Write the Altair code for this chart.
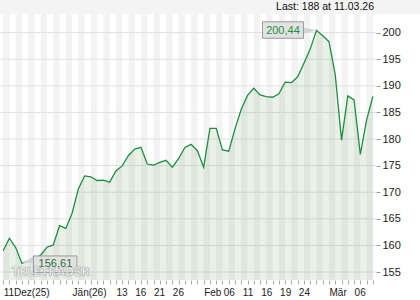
import altair as alt
import pandas as pd

# ---- data ----
values = [159.0, 161.35, 159.6, 156.61, 157.1, 157.4, 158.2, 159.66, 160.1, 163.7,
          163.2, 166.05, 170.6, 173.06, 172.9, 172.2, 172.25, 171.9, 174.0, 174.95,
          176.9, 178.1, 178.45, 175.3, 175.1, 175.6, 176.0, 174.7, 176.3, 178.4,
          179.0, 177.8, 174.7, 182.0, 182.0, 177.95, 177.7, 181.9, 185.6, 188.2,
          189.55, 188.3, 187.97, 187.85, 188.5, 190.7, 190.6, 191.7, 194.25, 196.9,
          200.44, 199.4, 198.3, 192.05, 179.8, 188.1, 187.35, 177.1, 183.6, 188.0]
tick_idx = [0, 11, 18, 21, 24, 27, 32, 36, 39, 42, 45, 48, 52, 56]
tick_text = ["11Dez(25)", "Jän(26)", "13", "16", "21", "26", "Feb", "06", "11",
             "16", "19", "24", "Mär", "06"]
y_ticks = [155, 160, 165, 170, 175, 180, 185, 190, 195, 200]
last_date = "11.03.26"

n = len(values)
df = pd.DataFrame({"idx": list(range(n)), "value": values})
stripes = pd.DataFrame({"idx": list(range(0, n - 1, 2))})
grid = pd.DataFrame({"value": y_ticks})

W, H = 376, 266
GREEN = "#1f8f3f"
FONT = "Liberation Sans"

xscale = alt.Scale(domain=[-0.5, n - 0.5], nice=False, zero=False)
yscale = alt.Scale(domain=[153.5, 203.5], nice=False, zero=False)

label_expr = " : ".join(
    f"datum.value == {i} ? '{t}'" for i, t in zip(tick_idx, tick_text)) + " : ''"

x_axis = alt.Axis(values=list(range(n)), labelExpr=label_expr,
                  labelAlign={"condition": {"test": "datum.value >= 36 && datum.value <= 48",
                                            "value": "center"}, "value": "left"},
                  tickSize=4, tickColor="#aaaaaa", domain=False, grid=False,
                  labelFont=FONT, labelFontSize=10, labelColor="#222222",
                  labelPadding=3, labelOverlap=False, labelBound=False,
                  labelFlush=False, title=None)
y_axis = alt.Axis(values=y_ticks, orient="right", tickSize=4, tickColor="#999999",
                  domain=False, grid=False, labelFont=FONT, labelFontSize=11,
                  labelColor="#222222", labelPadding=2, title=None)

X = alt.X("idx:Q", scale=xscale, axis=x_axis)
Y = alt.Y("value:Q", scale=yscale, axis=y_axis)

base = alt.Chart(df)

topband = alt.Chart(pd.DataFrame({"a": [0]})).mark_rect(color="#f4f4f4").encode(
    x=alt.value(0), x2=alt.value(420), y=alt.value(-14), y2=alt.value(0))

stripe_layer = alt.Chart(stripes).transform_calculate(e="datum.idx + 1").mark_rect(
    color="#f3f3f3").encode(
    x=X, x2="e:Q", y=alt.value(0), y2=alt.value(H))

grid_layer = alt.Chart(grid).mark_rule(color="#e0e0e0", strokeWidth=1).encode(
    y=Y, x=alt.value(0), x2=alt.value(W))

area = base.mark_area(color="#4d8f4d", opacity=0.12, clip=True).encode(
    x=X, y=Y, y2=alt.value(H))

line = base.mark_line(color=GREEN, strokeWidth=1.3).encode(x=X, y=Y)

ext = base.transform_joinaggregate(mx="max(value)", mn="min(value)")
peak = ext.transform_filter("datum.value == datum.mx").transform_calculate(
    lbl="replace(format(datum.value, '.2f'), '.', ',')")
low = ext.transform_filter("datum.value == datum.mn").transform_calculate(
    lbl="replace(format(datum.value, '.2f'), '.', ',')")

enc2 = dict(x2="idx:Q", y2="value:Q")

peak_wedge = peak.mark_point(shape="M0,0L-14,-3L-14,4Z", size=4, filled=True,
                             fill="#d4d4d4", opacity=1, strokeWidth=0).encode(x=X, y=Y)
peak_box = peak.mark_rect(xOffset=-54, x2Offset=-13, yOffset=-8.5, y2Offset=8,
                          fill="#e2e2e2", stroke="#9a9a9a", strokeWidth=1).encode(x=X, y=Y, **enc2)
peak_txt = peak.mark_text(dx=-33.5, dy=1, align="center", baseline="middle",
                          font=FONT, fontSize=11, color="#1f8f3f").encode(x=X, y=Y, text="lbl:N")

low_wedge = low.mark_point(shape="M0,0L12,-7.5L12,-1Z", size=4, filled=True,
                           fill="#d4d4d4", opacity=1, strokeWidth=0).encode(x=X, y=Y)
low_box = low.mark_rect(xOffset=11.5, x2Offset=55, yOffset=-7.5, y2Offset=9,
                        fill="#e2e2e2", stroke="#9a9a9a", strokeWidth=1).encode(x=X, y=Y, **enc2)
low_txt = low.mark_text(dx=33.5, dy=1, align="center", baseline="middle",
                        font=FONT, fontSize=11, color="#2a6f3a").encode(x=X, y=Y, text="lbl:N")

watermark = alt.Chart(pd.DataFrame({"t": ["TELETRADER"]})).mark_text(
    align="left", baseline="alphabetic",
    font="Liberation Sans Narrow, DejaVu Sans Condensed, Liberation Sans",
    fontWeight="bold", fontSize=12, fill="#ffffff", fillOpacity=0.6,
    stroke="#b0b0b0", strokeWidth=0.7).encode(
    x=alt.value(12), y=alt.value(262), text="t:N")

top_txt = alt.Chart(pd.DataFrame({"t": [f"Last: {values[-1]:g} at {last_date}"]})).mark_text(
    align="right", baseline="middle", font=FONT, fontSize=10.5, color="#111111").encode(
    x=alt.value(374), y=alt.value(-7), text="t:N")

chart = alt.layer(
    topband, stripe_layer, grid_layer, area, line,
    peak_wedge, peak_box, peak_txt, low_wedge, low_box, low_txt,
    watermark, top_txt
).properties(
    width=W, height=H,
    autosize=alt.AutoSizeParams(type="none"),
    padding={"left": 0, "top": 14, "right": 44, "bottom": 20},
    background="white"
).configure_view(stroke=None)

chart.save("out.html", embed_options={"renderer": "svg", "actions": False})
